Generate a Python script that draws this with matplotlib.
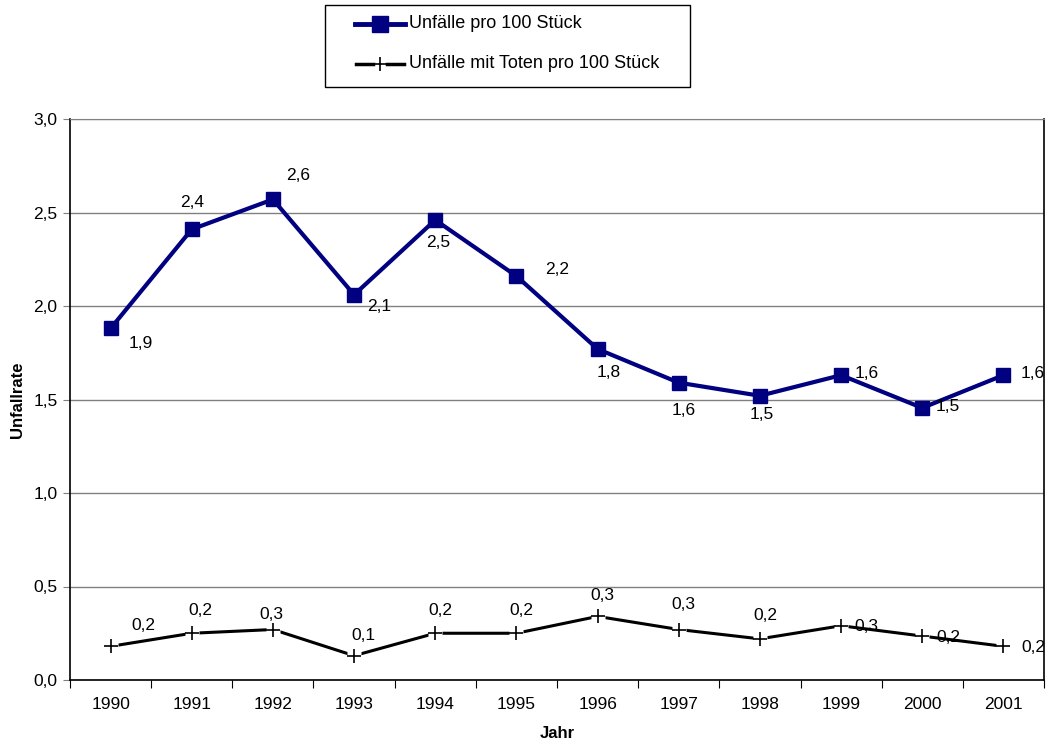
import matplotlib
matplotlib.use("Agg")
import matplotlib.pyplot as plt
from matplotlib.lines import Line2D
from matplotlib.patches import Rectangle

plt.rcParams['font.family'] = ['Liberation Sans', 'DejaVu Sans']

years = ['1990', '1991', '1992', '1993', '1994', '1995', '1996', '1997', '1998', '1999', '2000', '2001']
unfaelle = [1.88, 2.41, 2.57, 2.06, 2.46, 2.16, 1.77, 1.59, 1.52, 1.63, 1.455, 1.63]
unfaelle_tote = [0.18, 0.25, 0.27, 0.13, 0.25, 0.25, 0.34, 0.27, 0.22, 0.29, 0.235, 0.18]
yticks = [0.0, 0.5, 1.0, 1.5, 2.0, 2.5, 3.0]
legend_labels = ['Unfälle pro 100 Stück', 'Unfälle mit Toten pro 100 Stück']

# label offsets in pixels (style only)
off1 = [(30, -15), (0, 27), (25, 24), (25, -12), (3, -23), (41, 7), (11, -23), (5, -28), (2, -19), (26, 2), (26, 1), (29, 2)]
off2 = [(33, 21), (9, 23), (-2, 15), (9, 20), (5, 23), (5, 23), (5, 21), (5, 25), (5, 23), (25, -1), (26, -1), (30, -1)]

def fmt(v):
    return f"{v:.1f}".replace('.', ',')

W, H = 1048, 746
fig = plt.figure(figsize=(W/100, H/100), dpi=100)
ax = fig.add_axes([70/W, 1-680/H, 974/W, 561/H])

x = list(range(len(years)))
ax.plot(x, unfaelle, color='#000080', lw=3, marker='s', ms=10.5, mec='#000080', mfc='#000080', zorder=4)
# white gaps around plus markers
ax.plot(x, unfaelle_tote, ls='none', marker='s', ms=10, mfc='white', mec='none', zorder=3.5)
ax.plot(x, unfaelle_tote, color='black', lw=2.2, zorder=3)
ax.plot(x, unfaelle_tote, ls='none', marker='+', ms=10, mew=1.2, color='black', zorder=4)

for i, v in enumerate(unfaelle):
    ax.annotate(fmt(v), (i, v), xytext=off1[i], textcoords='offset pixels',
                ha='center', va='center', fontsize=12.5, zorder=5)
for i, v in enumerate(unfaelle_tote):
    ax.annotate(fmt(v), (i, v), xytext=off2[i], textcoords='offset pixels',
                ha='center', va='center', fontsize=12.5, zorder=5)

ax.set_xlim(-0.5, len(years) - 0.5)
ax.set_ylim(0, 3.0)
ax.set_yticks(yticks)
ax.set_yticklabels([fmt(t) for t in yticks], fontsize=12.5)
ax.set_xticks([i - 0.5 for i in range(len(years) + 1)])
ax.set_xticklabels([])
ax.set_xticks(x, minor=True)
ax.set_xticklabels(years, minor=True, fontsize=12.5)
ax.tick_params(axis='x', which='major', length=6, direction='out', color='black')
ax.tick_params(axis='x', which='minor', length=0, pad=12)
ax.tick_params(axis='y', length=5, direction='out', color='#808080', pad=4)
ax.yaxis.grid(True, color='#808080', lw=1)
ax.set_axisbelow(True)
for s in ['left', 'bottom', 'right']:
    ax.spines[s].set_color('black')
    ax.spines[s].set_linewidth(1.2)
ax.spines['top'].set_color('#808080')

fig.text(18/W, 1-400/H, 'Unfallrate', rotation=90, ha='center', va='center',
         fontsize=12, fontweight='bold')
fig.text(557/W, 1-734/H, 'Jahr', ha='center', va='center', fontsize=12, fontweight='bold')

# legend drawn manually
fig.patches.append(Rectangle((325/W, 1-87/H), 365/W, 82/H, transform=fig.transFigure,
                             fill=False, edgecolor='black', lw=1))
fig.lines.append(Line2D([355/W, 405/W], [1-24/H, 1-24/H], transform=fig.transFigure,
                        color='#000080', lw=3.5))
fig.lines.append(Line2D([380/W], [1-24/H], transform=fig.transFigure, ls='none',
                        marker='s', ms=12, color='#000080'))
fig.lines.append(Line2D([356/W, 373/W], [1-64/H, 1-64/H], transform=fig.transFigure, color='black', lw=2.5))
fig.lines.append(Line2D([387/W, 404/W], [1-64/H, 1-64/H], transform=fig.transFigure, color='black', lw=2.5))
fig.lines.append(Line2D([380/W], [1-64/H], transform=fig.transFigure, ls='none',
                        marker='+', ms=10, mew=1.2, color='black'))
fig.text(409/W, 1-24/H, legend_labels[0], ha='left', va='center', fontsize=13)
fig.text(409/W, 1-64/H, legend_labels[1], ha='left', va='center', fontsize=13)

fig.savefig('out.png', dpi=100)
